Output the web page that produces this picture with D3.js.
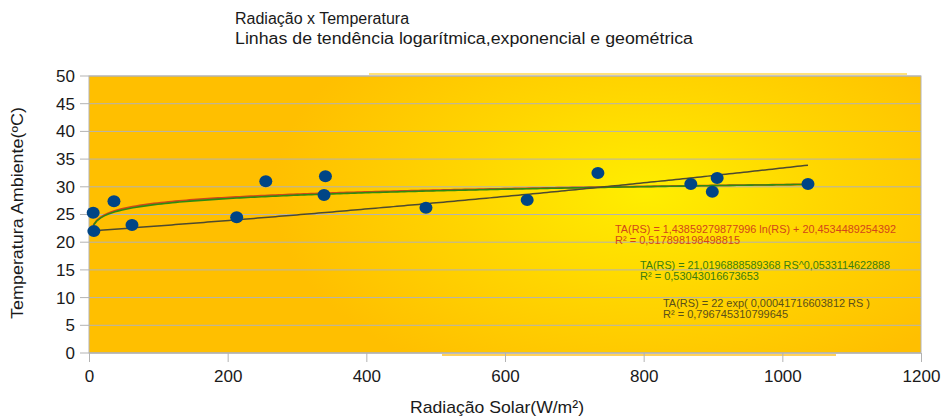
<!DOCTYPE html>
<html>
<head>
<meta charset="utf-8">
<script src="https://cdn.jsdelivr.net/npm/d3@7"></script>
<style>
  body { margin: 0; background: #fff; }
  text { font-family: "Liberation Sans", Arial, sans-serif; }
</style>
</head>
<body>
<div id="chart"></div>
<script>
var width = 943;
var height = 416;

// radiação solar (W/m²) x temperatura ambiente (ºC)
var radiacao = [6, 7, 36, 62, 213, 255, 339, 341, 486, 632, 734, 868, 899, 906, 1037];
var temperatura = [25.3, 22.0, 27.4, 23.1, 24.5, 31.0, 28.5, 31.9, 26.2, 27.6, 32.5, 30.5, 29.1, 31.6, 30.5];
var xTicks = [0, 200, 400, 600, 800, 1000, 1200];
var yTicks = [0, 5, 10, 15, 20, 25, 30, 35, 40, 45, 50];

// coeficientes das linhas de tendência
var logA = 1.43859279877996, logB = 20.4534489254392;
var powA = 21.0196888589368, powB = 0.0533114622888;
var expA = 22, expB = 0.00041716603812;

var margin = {top: 76, right: 22, bottom: 63, left: 89};

var svg = d3.select('#chart').append('svg')
    .attr('width', width)
    .attr('height', height);

var x = d3.scaleLinear().domain([0, 1200]).range([margin.left, width - margin.right]);
var y = d3.scaleLinear().domain([0, 50]).range([height - margin.bottom, margin.top]);

var defs = svg.append('defs');
var grad = defs.append('radialGradient')
    .attr('id', 'wall')
    .attr('cx', '0.67').attr('cy', '0.42').attr('r', '0.45')
    .attr('gradientTransform', 'translate(0.67,0.42) scale(1,1.7) translate(-0.67,-0.42)');
grad.append('stop').attr('offset', '0%').attr('stop-color', '#ffee00');
grad.append('stop').attr('offset', '50%').attr('stop-color', '#ffd500');
grad.append('stop').attr('offset', '100%').attr('stop-color', '#ffbf00');

// faixas claras fora da área (sombra do preenchimento)
svg.append('line')
    .attr('x1', 369).attr('x2', 907)
    .attr('y1', y(50) - 2).attr('y2', y(50) - 2)
    .attr('stroke', '#ffe27a').attr('stroke-width', 2);
svg.append('line')
    .attr('x1', 442).attr('x2', 836)
    .attr('y1', y(0) + 2).attr('y2', y(0) + 2)
    .attr('stroke', '#ffd15a').attr('stroke-width', 2);

svg.append('rect')
    .attr('x', x(0)).attr('y', y(50))
    .attr('width', x(1200) - x(0))
    .attr('height', y(0) - y(50))
    .attr('fill', 'url(#wall)')
    .attr('stroke', '#b3b3b3');

// grade
svg.append('g')
    .selectAll('line')
    .data(yTicks)
    .enter()
    .append('line')
    .attr('x1', x(0) - 9).attr('x2', x(1200))
    .attr('y1', function(d) { return y(d); })
    .attr('y2', function(d) { return y(d); })
    .attr('stroke', '#b3b3b3');

// eixos
var yAxis = svg.append('g')
    .attr('transform', 'translate(' + x(0) + ',0)')
    .call(d3.axisLeft(y).tickValues(yTicks).tickFormat(d3.format('d')).tickSize(9).tickPadding(5));
yAxis.select('.domain').remove();
yAxis.selectAll('.tick line').remove();
yAxis.selectAll('text').attr('font-size', 17).attr('fill', '#1a1a1a')
    .style('font-family', '"Liberation Sans", Arial, sans-serif');

var xAxis = svg.append('g')
    .attr('transform', 'translate(0,' + y(0) + ')')
    .call(d3.axisBottom(x).tickValues(xTicks).tickFormat(d3.format('d')).tickSize(9).tickPadding(8));
xAxis.select('.domain').attr('stroke', '#b3b3b3').attr('d', 'M' + x(0) + ',0H' + x(1200));
xAxis.selectAll('.tick line').attr('stroke', '#b3b3b3');
xAxis.selectAll('text').attr('font-size', 17).attr('fill', '#1a1a1a')
    .style('font-family', '"Liberation Sans", Arial, sans-serif');

// linhas de tendência
var xMin = d3.min(radiacao), xMax = d3.max(radiacao);
var amostras = d3.range(0, 201).map(function(i) { return xMin + (xMax - xMin) * i / 200; });

var line = d3.line()
    .x(function(d) { return x(d[0]); })
    .y(function(d) { return y(d[1]); });

svg.append('path')
    .attr('d', line(amostras.map(function(r) { return [r, logA * Math.log(r) + logB]; })))
    .attr('fill', 'none').attr('stroke', '#d2461a').attr('stroke-width', 1.8);
svg.append('path')
    .attr('d', line(amostras.map(function(r) { return [r + 0.6, powA * Math.pow(r, powB)]; })))
    .attr('fill', 'none').attr('stroke', '#2e8b12').attr('stroke-width', 1.6);
svg.append('path')
    .attr('d', line(amostras.map(function(r) { return [r, expA * Math.exp(expB * r)]; })))
    .attr('fill', 'none').attr('stroke', '#4d4a30').attr('stroke-width', 1.5);

// pontos
svg.append('g')
    .selectAll('ellipse')
    .data(radiacao)
    .enter()
    .append('ellipse')
    .attr('cx', function(d) { return x(d); })
    .attr('cy', function(d, i) { return y(temperatura[i]); })
    .attr('rx', 6.5).attr('ry', 6)
    .attr('fill', '#004586');

// equações
var eqs = [
    {t1: 'TA(RS) = 1,43859279877996 ln(RS) + 20,4534489254392', t2: 'R² = 0,517898198498815', x: 615, y: 233, w: 281, c: '#d2461a'},
    {t1: 'TA(RS) = 21,0196888589368 RS^0,0533114622888', t2: 'R² = 0,53043016673653', x: 640, y: 269, w: 250, c: '#3a7d12'},
    {t1: 'TA(RS) = 22 exp( 0,00041716603812 RS )', t2: 'R² = 0,796745310799645', x: 663, y: 307, w: 207, c: '#5a4f1a'}
];
eqs.forEach(function(e) {
    svg.append('text').attr('x', e.x).attr('y', e.y).attr('font-size', 11).attr('fill', e.c)
        .attr('textLength', e.w).attr('lengthAdjust', 'spacingAndGlyphs').text(e.t1);
    svg.append('text').attr('x', e.x).attr('y', e.y + 11).attr('font-size', 11).attr('fill', e.c).text(e.t2);
});

// títulos
svg.append('text').attr('x', 235).attr('y', 24).attr('font-size', 16).attr('fill', '#1a1a1a')
    .text('Radiação x Temperatura');
svg.append('text').attr('x', 235).attr('y', 44).attr('font-size', 16).attr('fill', '#1a1a1a')
    .attr('textLength', 458).attr('lengthAdjust', 'spacingAndGlyphs')
    .text('Linhas de tendência logarítmica,exponencial e geométrica');

svg.append('text')
    .attr('x', 497).attr('y', 413)
    .attr('text-anchor', 'middle')
    .attr('font-size', 17).attr('fill', '#1a1a1a')
    .attr('textLength', 174).attr('lengthAdjust', 'spacingAndGlyphs')
    .text('Radiação Solar(W/m²)');

svg.append('text')
    .attr('transform', 'translate(23,213) rotate(-90)')
    .attr('text-anchor', 'middle')
    .attr('font-size', 16).attr('fill', '#1a1a1a')
    .attr('textLength', 212).attr('lengthAdjust', 'spacingAndGlyphs')
    .text('Temperatura Ambiente(ºC)');
</script>
</body>
</html>
